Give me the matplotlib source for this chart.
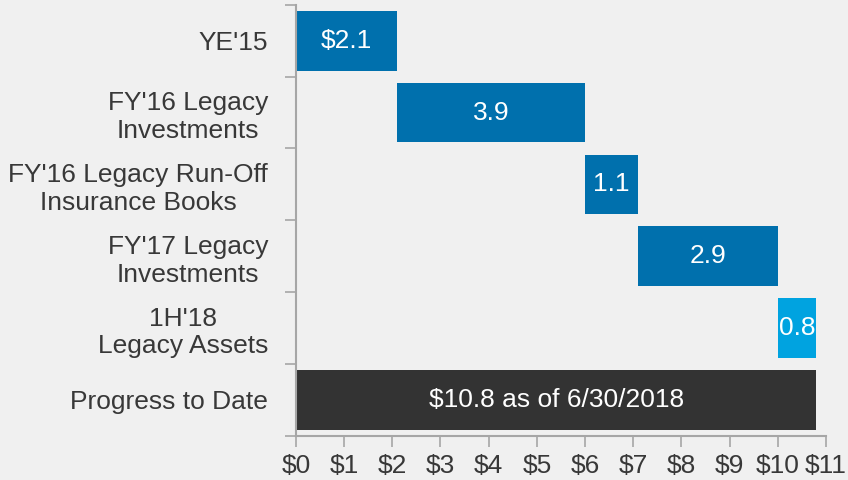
import matplotlib.pyplot as plt
import numpy as np

plt.rcParams['font.family'] = ['Liberation Sans', 'DejaVu Sans']

# data
categories = ["YE'15", "FY'16 Legacy\nInvestments", "FY'16 Legacy Run-Off\nInsurance Books",
              "FY'17 Legacy\nInvestments", "1H'18\nLegacy Assets", "Progress to Date"]
values = [2.1, 3.9, 1.1, 2.9, 0.8, 10.8]
bar_labels = ["$2.1", "3.9", "1.1", "2.9", "0.8", "$10.8 as of 6/30/2018"]
colors = ["#0070AD", "#0070AD", "#0070AD", "#0070AD", "#00A3E0", "#333333"]
xticks = np.arange(0, 12)
xtick_labels = ["$" + str(v) for v in xticks]

# waterfall starts, total starts at zero
starts = list(np.cumsum([0] + values[:4]))
starts.append(0)

bg = "#F0F0F0"
fig, ax = plt.subplots(figsize=(8.48, 4.8), dpi=100)
fig.patch.set_facecolor(bg)
ax.set_facecolor(bg)
fig.subplots_adjust(left=0.349, right=0.974, top=0.99, bottom=0.092)

y = np.arange(len(categories))
ax.barh(y, values, left=starts, height=0.83, color=colors)
for yi, s, v, lab in zip(y, starts, values, bar_labels):
    ax.text(s + v / 2, yi, lab, ha='center', va='center', color='white', fontsize=19)

ax.set_ylim(len(categories) - 0.5, -0.5)
ax.set_xlim(0, 11)

ax.set_yticks(y)
ax.set_yticklabels(categories, fontsize=19, color='#383838', multialignment='center',
                   linespacing=1.2)
ax.tick_params(axis='y', length=0, pad=20)
ax.set_yticks(np.arange(-0.5, len(categories)), minor=True)
ax.tick_params(axis='y', which='minor', length=8, color='#A6A6A6', width=1.2)

ax.set_xticks(xticks)
ax.set_xticklabels(xtick_labels, fontsize=19, color='#383838')
ax.tick_params(axis='x', length=8, color='#A6A6A6', width=1.2, pad=5)

for side in ['top', 'right']:
    ax.spines[side].set_visible(False)
for side in ['left', 'bottom']:
    ax.spines[side].set_color('#A6A6A6')
    ax.spines[side].set_linewidth(1.5)

plt.savefig('out.png', dpi=100, facecolor=bg)
